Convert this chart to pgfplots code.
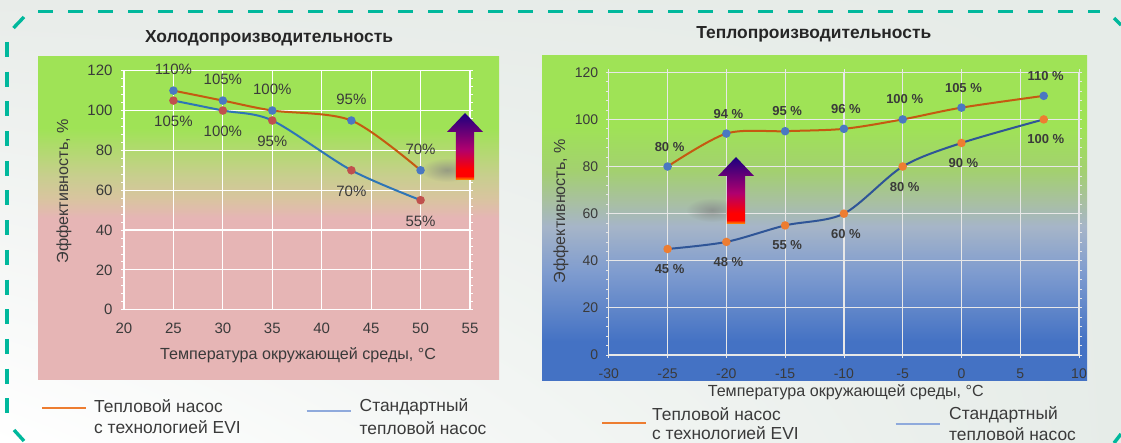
\documentclass[border=0pt]{standalone}
\usepackage{fontspec}
\setmainfont{Liberation Sans}
\usepackage{pgfplots}
\pgfplotsset{compat=1.18}
\usetikzlibrary{fadings,shadings}

\definecolor{teal}{HTML}{00B89C}
\definecolor{txt}{HTML}{3A3A3A}
\definecolor{evi}{HTML}{C55A11}
\definecolor{stdL}{HTML}{2E75B6}
\definecolor{stdR}{HTML}{2F5597}
\definecolor{mblue}{HTML}{4A78C2}
\definecolor{mred}{HTML}{C0504D}
\definecolor{morange}{HTML}{ED7D31}
\definecolor{legblue}{HTML}{8FAADC}
\definecolor{pink}{HTML}{E6B5B5}
\definecolor{pinktan}{HTML}{D9C4A0}
\definecolor{tan}{HTML}{C8CE8E}
\definecolor{lime}{HTML}{9FE356}
\definecolor{deep}{HTML}{4472C4}
\definecolor{mid}{HTML}{7F9CCF}
\definecolor{haze}{HTML}{A6B5C8}
\definecolor{sage}{HTML}{A8C0A0}
\definecolor{sage2}{HTML}{A3D070}
\definecolor{aorange}{HTML}{FFA000}
\definecolor{ared}{HTML}{FF0000}
\definecolor{amag}{HTML}{B0006E}
\definecolor{aind}{HTML}{1A007F}
\definecolor{bgtop}{HTML}{E8ECE9}
\definecolor{bgright}{HTML}{E6ECE8}

\pgfdeclareverticalshading{panelL}{100bp}{
  color(0bp)=(pink); color(25bp)=(pink); color(50.1bp)=(pink);
  color(53bp)=(pinktan); color(56.6bp)=(tan);
  color(64bp)=(lime); color(100bp)=(lime)}
\pgfdeclareverticalshading{panelR}{100bp}{
  color(0bp)=(deep); color(31.1bp)=(deep);
  color(41.8bp)=(mid); color(48.8bp)=(haze);
  color(52.7bp)=(sage); color(57.3bp)=(sage2);
  color(64.2bp)=(lime); color(100bp)=(lime)}
\pgfdeclareverticalshading{arrowup}{100bp}{
  color(0bp)=(aorange); color(25bp)=(aorange);
  color(28bp)=(ared); color(33bp)=(ared);
  color(48bp)=(amag); color(75bp)=(aind);
  color(100bp)=(aind)}
\tikzfading[name=softblob, inner color=transparent!35, outer color=transparent!100]

\pgfplotsset{
  chart/.style={
    scale only axis,
    clip=false,
    /pgf/number format/assume math mode=true,
    ymin=0, ymax=120, ytick={0,20,...,120},
    minor y tick num=4,
    grid=major,
    axis line style={draw=gridc, line width=1.2pt},
    major grid style={draw=gridc, line width=1.2pt},
    major tick style={draw=gridc, line width=.8pt},
    minor tick style={draw=gridc, line width=.8pt},
    tick align=outside,
    tick label style={text=txt},
    label style={text=txt, font=\fontsize{16.1}{18}\selectfont},
    title style={text=black!85, font=\fontsize{17.4}{19}\selectfont\bfseries, anchor=center},
    point meta=y,
  },
}
\colorlet{gridc}{white}

\newcommand{\uparr}[2]{% x of tip, y of tip in px
  \shade[shading=arrowup] (#1pt,{(443-#2)*1pt}) -- ++(18pt,-19pt) -- ++(-8.9pt,0pt) -- ++(0pt,-48pt)
    -- ++(-18.2pt,0pt) -- ++(0pt,48pt) -- ++(-8.9pt,0pt) -- cycle;}

\begin{document}
\begin{tikzpicture}
\useasboundingbox (0,0) rectangle (1121pt,443pt);
\shade[upper left=bgtop, upper right=bgright, lower left=white, lower right=bgright] (0,0) rectangle (1121pt,443pt);

% dashed frame
\begin{scope}[draw=teal, line width=3.4pt]
  \draw[dash pattern=on 15pt off 15pt] (38pt,431.5pt) -- (1100pt,431.5pt);
  \draw[dash pattern=on 15pt off 14.7pt] (7pt,401pt) -- (7pt,26pt);
  \draw (13.5pt,415pt) -- (24pt,426pt);
  \draw (14pt,13pt) -- (24pt,2pt);
  \draw (1114pt,425pt) -- (1121pt,418pt);
  \draw (1114pt,0pt) -- (1121pt,9pt);
\end{scope}

% panels
\shade[shading=panelL] (38pt,63pt) rectangle (499pt,386pt);
\shade[shading=panelR] (542pt,62pt) rectangle (1087pt,387pt);

% cooling
\begin{axis}[
  chart,
  at={(124pt,133.3pt)}, anchor=south west,
  width=346pt, height=239pt,
  xmin=20, xmax=55, xtick={20,25,...,55},
  x tick style={draw=none},
  major tick length=3pt, minor tick length=3pt,
  tick label style={font=\fontsize{15}{17}\selectfont},
  xticklabel style={yshift=-7pt},
  yticklabel style={xshift=-5pt},
  title={Холодопроизводительность},
  title style={at={(axis description cs:0.419,1)}, yshift=26.7pt},
  xlabel={Температура окружающей среды, °C},
  xlabel style={at={(axis description cs:0.503,0)}, anchor=center, yshift=-46pt},
  ylabel={Эффективность, \%},
  ylabel style={at={(axis description cs:0,0.495)}, anchor=center, yshift=60pt},
  nodes near coords={\pgfmathprintnumber{\pgfplotspointmeta}\%},
  every node near coord/.append style={font=\fontsize{15}{17}\selectfont, text=txt, anchor=center},
]
\addplot[smooth, tension=0.5, stdL, line width=2pt, mark=*, mark size=3.2pt,
  mark options={draw=mred, fill=mred},
  every node near coord/.append style={yshift=-21pt}] coordinates {
  (25,105) (30,100) (35,95) (43,70) (50,55)};
\addplot[smooth, tension=0.5, evi, line width=2pt, mark=*, mark size=3.2pt,
  mark options={draw=mblue, fill=mblue},
  every node near coord/.append style={yshift=21pt}] coordinates {
  (25,110) (30,105) (35,100) (43,95) (50,70)};
\end{axis}

% heating
\colorlet{gridc}{white!82!gray}
\begin{axis}[
  chart,
  at={(608.8pt,88pt)}, anchor=south west,
  width=470.2pt, height=282.7pt,
  xmin=-30, xmax=10, xtick={-30,-25,...,10},
  major tick length=3pt, minor tick length=3pt,
  tick label style={font=\fontsize{14}{16}\selectfont},
  xticklabel style={yshift=-7pt},
  yticklabel style={xshift=-4pt},
  title={Теплопроизводительность},
  title style={at={(axis description cs:0.436,1)}, yshift=32.3pt},
  xlabel={Температура окружающей среды, °C},
  xlabel style={at={(axis description cs:0.504,0)}, anchor=center, yshift=-37pt},
  ylabel={Эффективность, \%},
  ylabel style={at={(axis description cs:0,0.509)}, anchor=center, yshift=47.8pt},
  nodes near coords={\pgfmathprintnumber{\pgfplotspointmeta}~\%},
  every node near coord/.append style={font=\fontsize{13}{15}\selectfont\bfseries, text=txt, anchor=center, xshift=2pt},
]
\addplot[smooth, tension=0.5, stdR, line width=2pt, mark=*, mark size=3.2pt,
  mark options={draw=morange, fill=morange},
  every node near coord/.append style={yshift=-20pt}] coordinates {
  (-25,45) (-20,48) (-15,55) (-10,60) (-5,80) (0,90) (7,100)};
\addplot[smooth, tension=0.5, evi, line width=2pt, mark=*, mark size=3.2pt,
  mark options={draw=mblue, fill=mblue},
  every node near coord/.append style={yshift=20pt}] coordinates {
  (-25,80) (-20,94) (-15,95) (-10,96) (-5,100) (0,105) (7,110)};
\end{axis}

% shadows under the arrows
\fill[black!50, path fading=softblob] (447pt,273pt) ellipse (26pt and 12pt);
\fill[black!50, path fading=softblob] (712pt,233pt) ellipse (26pt and 12pt);
\uparr{465}{113}
\uparr{736}{157}

% legends
\begin{scope}[every node/.style={anchor=west, inner sep=0pt, text=txt, font=\fontsize{17.4}{19}\selectfont}]
  \draw[morange, line width=2.4pt] (42pt,35pt) -- (86pt,35pt);
  \node at (94pt,37pt) {Тепловой насос};
  \node at (94pt,16pt) {с технологией EVI};
  \draw[legblue, line width=2.4pt] (306.5pt,32pt) -- (350.5pt,32pt);
  \node at (359.5pt,36pt) {Стандартный};
  \node at (359.5pt,15pt) {тепловой насос};
  \draw[morange, line width=2.4pt] (602pt,20pt) -- (646pt,20pt);
  \node at (652pt,29pt) {Тепловой насос};
  \node at (652pt,10pt) {с технологией EVI};
  \draw[legblue, line width=2.4pt] (895.6pt,19pt) -- (940pt,19pt);
  \node at (949pt,28pt) {Стандартный};
  \node at (949pt,9pt) {тепловой насос};
\end{scope}
\end{tikzpicture}
\end{document}
